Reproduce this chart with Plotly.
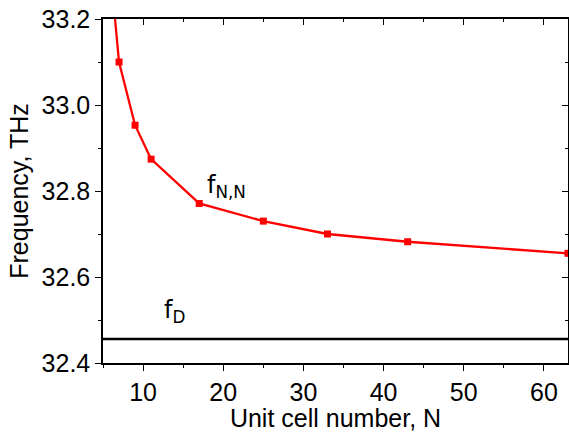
import plotly.graph_objects as go

N = [5, 7, 9, 11, 17, 25, 33, 43, 63]
f_NN = [33.50, 33.10, 32.953, 32.874, 32.771, 32.730, 32.700, 32.682, 32.655]
fD_x = [5, 63]
fD_y = [32.456, 32.456]

FONT = "Liberation Sans, Arial, sans-serif"

fig = go.Figure()
fig.add_trace(go.Scatter(
    x=N, y=f_NN, mode="lines+markers",
    line=dict(color="#ff0000", width=2.3),
    marker=dict(symbol="square", size=7, color="#ff0000"),
    showlegend=False, hoverinfo="skip"))
fig.add_trace(go.Scatter(
    x=fD_x, y=fD_y, mode="lines", xaxis="x2", yaxis="y2",
    line=dict(color="black", width=2.5),
    showlegend=False, hoverinfo="skip"))

xr = [5, 63]
yr = [32.4, 33.2]

fig.update_layout(
    width=569, height=432,
    margin=dict(l=103, r=1, t=19, b=66),
    paper_bgcolor="white", plot_bgcolor="white",
    font=dict(family=FONT, size=25, color="black"),
    xaxis=dict(range=xr, tickmode="linear", tick0=0, dtick=10,
               ticks="outside", ticklen=6, tickwidth=1, tickcolor="black",
               minor=dict(dtick=5, tick0=0, ticks="outside", ticklen=3, tickcolor="black"),
               showline=True, linecolor="black", linewidth=1.5,
               showgrid=False, zeroline=False,
               title=dict(text="Unit cell number, N", font=dict(size=25), standoff=8)),
    yaxis=dict(range=yr, tickmode="linear", tick0=32.4, dtick=0.2, tickformat=".1f",
               ticks="outside", ticklen=6, tickwidth=1, tickcolor="black",
               minor=dict(dtick=0.1, tick0=32.4, ticks="outside", ticklen=3, tickcolor="black"),
               showline=True, linecolor="black", linewidth=1.5,
               showgrid=False, zeroline=False,
               title=dict(text="Frequency, THz", font=dict(size=25), standoff=6)),
    xaxis2=dict(range=xr, overlaying="x", side="top", anchor="y2",
                tickmode="linear", tick0=0, dtick=10,
                ticks="inside", ticklen=6, tickcolor="black", showticklabels=False,
                minor=dict(dtick=5, tick0=0, ticks="inside", ticklen=3, tickcolor="black"),
                showline=True, linecolor="black", linewidth=1.5,
                showgrid=False, zeroline=False),
    yaxis2=dict(range=yr, overlaying="y", side="right", anchor="x2",
                tickmode="linear", tick0=32.4, dtick=0.2,
                ticks="inside", ticklen=6, tickcolor="black", showticklabels=False,
                minor=dict(dtick=0.1, tick0=32.4, ticks="inside", ticklen=3, tickcolor="black"),
                showline=True, linecolor="black", linewidth=1.5,
                showgrid=False, zeroline=False),
    annotations=[
        dict(x=17.7, y=32.81, xref="x", yref="y", text="f<sub>N,N</sub>",
             showarrow=False, xanchor="left", yanchor="middle",
             font=dict(size=24, family="DejaVu Sans, sans-serif")),
        dict(x=12.3, y=32.52, xref="x", yref="y", text="f<sub>D</sub>",
             showarrow=False, xanchor="left", yanchor="middle",
             font=dict(size=24, family="DejaVu Sans, sans-serif")),
    ],
)

fig.write_html("out.html")
